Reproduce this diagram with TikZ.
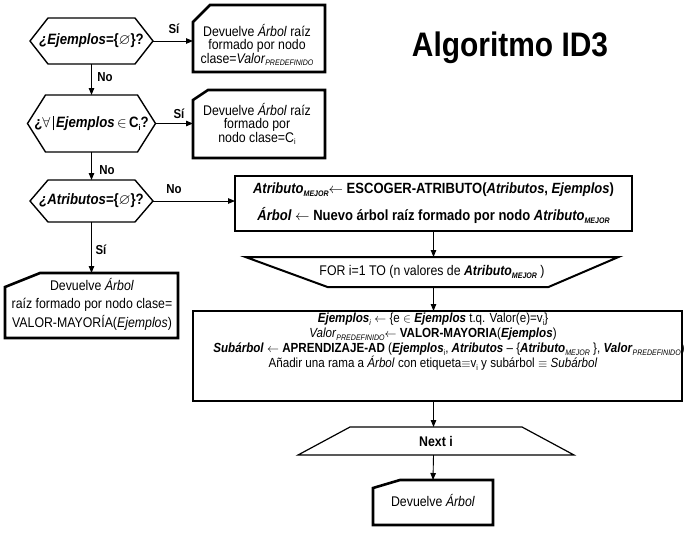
\documentclass[tikz,border=0pt]{standalone}
\usepackage{amssymb}
\usepackage{fontspec}
\setmainfont{Liberation Sans}[FakeStretch=0.88]
\usetikzlibrary{arrows.meta,calc}
\newcommand\lowidx[1]{\raisebox{-0.35ex}{\fontsize{8}{8}\selectfont #1}}
\begin{document}
\begin{tikzpicture}[x=1pt,y=-1pt,line join=miter,
  every node/.style={inner sep=0pt,outer sep=0pt},
  txt/.style={align=center,font=\fontsize{14}{13.5}\selectfont},
  lbl/.style={font=\fontsize{13}{13}\selectfont\bfseries},
  hexa/.style={font=\fontsize{15}{15}\selectfont\bfseries},
  hexline/.style={line width=1.4pt},
  cardline/.style={line width=2.6pt},
  bigline/.style={draw,line width=2.6pt},
  forline/.style={line width=2pt},
  nextline/.style={line width=1.2pt},
  arr/.style={line width=0.9pt,-{Triangle[length=7pt,width=5.5pt]}}]
\fill[white] (0,0) rectangle (684,538);
\useasboundingbox (0,0) rectangle (684,538);

\node[font=\fontsize{34}{34}\selectfont\bfseries] (title) at (510,48) {Algoritmo ID3};

% decisions
\node[hexa,minimum width=123pt,minimum height=46pt] (h1) at (91.5,41) {\textit{¿Ejemplos}=\{$\varnothing$\}?};
\node[hexa,minimum width=128pt,minimum height=57pt] (h2) at (91.5,123.5) {¿$\forall$\,\rule[-3pt]{0.8pt}{14pt}\,\textit{Ejemplos}$\,\in\,$C\lowidx{i}?};
\node[hexa,minimum width=123pt,minimum height=42pt] (h3) at (91.5,201) {\textit{¿Atributos}=\{$\varnothing$\}?};
\foreach \n in {h1,h2,h3}
  \draw[hexline] (\n.west) -- ([xshift=18pt]\n.north west) -- ([xshift=-18pt]\n.north east) -- (\n.east) -- ([xshift=-18pt]\n.south east) -- ([xshift=18pt]\n.south west) -- cycle;

% output cards
\node[minimum width=132pt,minimum height=67pt] (b1) at (259,38.5) {};
\node[minimum width=132pt,minimum height=68pt] (b2) at (259,124) {};
\node[minimum width=173pt,minimum height=65pt] (b3) at (91.5,305.5) {};
\node[minimum width=120pt,minimum height=45pt] (fin) at (433,502.5) {};
\foreach \n/\cx/\cy in {b1/17/17,b2/15/10,b3/35/14,fin/27/8}
  \draw[cardline] ([yshift={-\cy*1pt}]\n.north west) -- ([xshift={\cx*1pt}]\n.north west) -- (\n.north east) -- (\n.south east) -- (\n.south west) -- cycle;
\node[txt] (b1t) at (257,45) {Devuelve \textit{Árbol} raíz\\formado por nodo\\clase=\textit{Valor}\lowidx{\textit{PREDEFINIDO}}};
\node[txt] (b2t) at (257,124) {Devuelve \textit{Árbol} raíz\\formado por\\nodo clase=C\lowidx{i}};
\node[txt,font=\fontsize{14}{18.5}\selectfont] (b3t) at (92,304) {Devuelve \textit{Árbol}\\raíz formado por nodo clase=\\VALOR-MAYORÍA(\textit{Ejemplos})};
\node[txt] (fint) at (433,500) {Devuelve \textit{Árbol}};

% process boxes
\node[bigline,align=center,minimum width=397pt,minimum height=55pt,font=\fontsize{14.8}{27}\selectfont\bfseries] (big1) at (433.5,203.5)
  {\textit{Atributo}\lowidx{\textit{MEJOR}}$\leftarrow$ ESCOGER-ATRIBUTO(\textit{Atributos}, \textit{Ejemplos})\\\textit{Árbol} $\leftarrow$ Nuevo árbol raíz formado por nodo \textit{Atributo}\lowidx{\textit{MEJOR}}};

\node[minimum width=373pt,minimum height=30pt,font=\fontsize{14}{14}\selectfont] (forl) at (432,272) {FOR i=1 TO (n valores de \textbf{\textit{Atributo}}\lowidx{\textbf{\textit{MEJOR}}} )};
\draw[forline] (forl.north west) -- (forl.north east) -- ([xshift=-70pt]forl.south east) -- ([xshift=82pt]forl.south west) -- cycle;

\node[bigline,minimum width=489pt,minimum height=90pt] (big2) at (437.5,356) {};
\node[txt,font=\fontsize{13.2}{15}\selectfont] (big2t) at (433,342) {\textbf{\textit{Ejemplos}}\lowidx{\textit{i}} $\leftarrow$ \{e $\in$ \textbf{\textit{Ejemplos}} t.q. Valor(e)=v\lowidx{i}\}\\
\textit{Valor}\lowidx{\textit{PREDEFINIDO}}$\leftarrow$ \textbf{VALOR-MAYORIA}(\textbf{\textit{Ejemplos}})\\
\hspace*{32pt}\textbf{\textit{Subárbol}} $\leftarrow$ \textbf{APRENDIZAJE-AD} (\textbf{\textit{Ejemplos}}\lowidx{i}, \textbf{\textit{Atributos}} -- \{\textbf{\textit{Atributo}}\lowidx{\textit{MEJOR}} \}, \textbf{\textit{Valor}}\lowidx{\textit{PREDEFINIDO}})\\
Añadir una rama a \textit{Árbol} con etiqueta$\equiv$v\lowidx{i} y subárbol $\equiv$ \textit{Subárbol}};

\node[minimum width=276pt,minimum height=28pt,font=\fontsize{14}{14}\selectfont\bfseries] (nexti) at (436,441) {Next i};
\draw[nextline] ([xshift=52pt]nexti.north west) -- ([xshift=-52pt]nexti.north east) -- (nexti.south east) -- (nexti.south west) -- cycle;

% connectors
\draw[arr] (h1.east) -- (b1.west |- h1.east);
\draw[arr] (h2.east) -- (b2.west |- h2.east);
\draw[arr] (h3.east) -- (big1.west |- h3.east);
\draw[arr] (h1.south) -- (h2.north);
\draw[arr] (h2.south) -- (h3.north);
\draw[arr] (h3.south) -- (b3.north);
\draw[arr] (big1.south) -- (big1.south |- forl.north);
\draw[arr] (big1.south |- forl.south) -- (big1.south |- big2.north);
\draw[arr] (big1.south |- big2.south) -- (big1.south |- nexti.north);
\draw[arr] (big1.south |- nexti.south) -- (fin.north);

% labels
\node[lbl] (s1) at (174,29) {Sí};
\node[lbl] (n1) at (105,77) {No};
\node[lbl] (s2) at (179,114) {Sí};
\node[lbl] (n2) at (107,170) {No};
\node[lbl] (n3) at (174,189) {No};
\node[lbl] (s3) at (101,250) {Sí};
\end{tikzpicture}
\end{document}
